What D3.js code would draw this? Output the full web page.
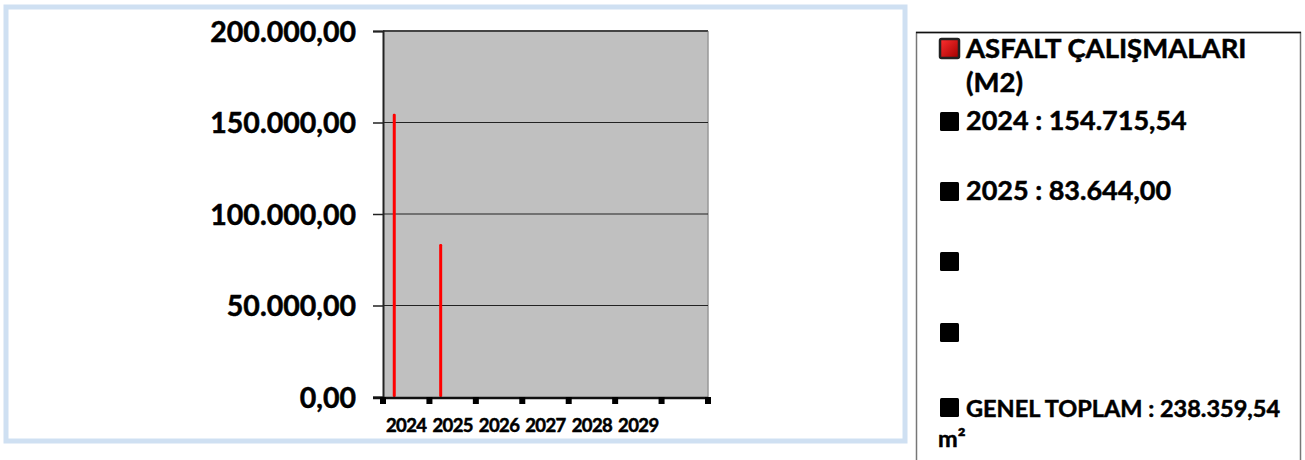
<!DOCTYPE html>
<html><head><meta charset="utf-8">
<script src="https://cdn.jsdelivr.net/npm/d3@7"></script>
<style>
html,body{margin:0;padding:0;background:#fff;}
svg{display:block;font-family:Lato,"Open Sans",sans-serif;font-weight:bold;}
svg text{stroke:#000;stroke-width:0.5px;}
</style></head>
<body><svg id="c" width="1305" height="460"></svg>
<script>
const categories = ["2024","2025","2026","2027","2028","2029",""];
const values = [154715.54, 83644.00, 0, 0, 0, 0, 0];
const yTicks = [0, 50000, 100000, 150000, 200000];
const seriesName = ["ASFALT ÇALIŞMALARI", "(M2)"];
const legendItems = ["2024 : 154.715,54", "2025 : 83.644,00", "", ""];
const totalLines = ["GENEL TOPLAM : 238.359,54", "m²"];

const svg = d3.select("#c");
const loc = d3.formatLocale({decimal:",", thousands:".", grouping:[3], currency:["",""]});
const fmt = loc.format(",.2f");

// outer frame
svg.append("rect").attr("x",6).attr("y",7).attr("width",899).attr("height",434)
  .attr("fill","#fff").attr("stroke","#cfe0f2").attr("stroke-width",5);

const L=383, R=708, T=31, B=397;
const x = d3.scaleBand().domain(d3.range(categories.length)).range([L,R]).padding(0);
const y = d3.scaleLinear().domain([0,200000]).range([B,T]);

// plot area
svg.append("rect").attr("x",L).attr("y",T).attr("width",R-L).attr("height",B-T).attr("fill","#c0c0c0");
svg.append("line").attr("x1",L).attr("x2",R).attr("y1",T).attr("y2",T).attr("stroke","#666").attr("stroke-width",2);
svg.append("line").attr("x1",R).attr("x2",R).attr("y1",T).attr("y2",B).attr("stroke","#999").attr("stroke-width",1.5);

// gridlines
svg.append("g").selectAll("line").data(yTicks.filter(d=>d>0)).join("line")
  .attr("x1",L).attr("x2",R).attr("y1",d=>y(d)).attr("y2",d=>y(d))
  .attr("stroke","#222").attr("stroke-width",1.2);

// y axis
const ya = svg.append("g").attr("transform",`translate(${L},0)`)
  .call(d3.axisLeft(y).tickValues(yTicks).tickFormat(fmt).tickSize(10).tickPadding(17));
ya.select(".domain").attr("stroke","#222").attr("stroke-width",2);
ya.selectAll(".tick line").attr("stroke","#222").attr("stroke-width",1.5);
ya.selectAll("text").attr("font-size",28.5).attr("font-weight","bold").attr("fill","#000")
  .attr("font-family","Lato, sans-serif").attr("dy","0.36em");

// bars
const bw = 3;
svg.append("g").selectAll("rect").data(values).join("rect")
  .attr("x",(d,i)=>x(i)+x.bandwidth()*0.21)
  .attr("y",d=>y(d)).attr("width",bw).attr("height",d=>B-y(d))
  .attr("rx",1.2).attr("fill","#ff0000");

// x axis
svg.append("line").attr("x1",L-10).attr("x2",R).attr("y1",B+1).attr("y2",B+1).attr("stroke","#111").attr("stroke-width",2.5);
const xt = x.domain().map(i=>x(i)).concat([R]);
svg.append("g").selectAll("rect").data(xt).join("rect")
  .attr("x",d=>d-3).attr("y",B).attr("width",6).attr("height",7).attr("fill","#000");
svg.append("g").selectAll("text").data(categories).join("text")
  .attr("x",(d,i)=>x(i)+x.bandwidth()/2).attr("y",432).attr("text-anchor","middle")
  .attr("font-size",18.5).attr("letter-spacing","-0.6").attr("fill","#000").text(d=>d);

// legend box
svg.append("rect").attr("x",916.5).attr("y",32.5).attr("width",384).attr("height",440)
  .attr("fill","#fff").attr("stroke","#777").attr("stroke-width",1.5);
svg.append("line").attr("x1",916).attr("x2",1301).attr("y1",32.5).attr("y2",32.5).attr("stroke","#111").attr("stroke-width",1.5);

const defs = svg.append("defs");
const g = defs.append("linearGradient").attr("id","rg").attr("x1","0").attr("y1","0").attr("x2","1").attr("y2","1");
g.append("stop").attr("offset","0").attr("stop-color","#ff3030");
g.append("stop").attr("offset","1").attr("stop-color","#a00000");

svg.append("rect").attr("x",940).attr("y",39).attr("width",19).attr("height",19).attr("rx",1.5)
  .attr("fill","url(#rg)").attr("stroke","#222").attr("stroke-width",2.5);
svg.append("g").selectAll("text").data(seriesName).join("text")
  .attr("x",966).attr("y",(d,i)=>58+i*34).attr("font-size",27.5).attr("fill","#000").text(d=>d);

const ly = [130, 200, 270, 341];
const li = svg.append("g").selectAll("g").data(legendItems).join("g");
li.append("rect").attr("x",940).attr("y",(d,i)=>ly[i]-18).attr("width",19).attr("height",19).attr("rx",1.5).attr("fill","#000");
li.append("text").attr("x",966).attr("y",(d,i)=>ly[i]).attr("font-size",27).attr("fill","#000").text(d=>d);

svg.append("rect").attr("x",940).attr("y",398).attr("width",19).attr("height",19).attr("rx",1.5).attr("fill","#000");
svg.append("g").selectAll("text").data(totalLines).join("text")
  .attr("x",(d,i)=>i===0?966:938).attr("y",(d,i)=>417+i*30).attr("font-size",23.5).attr("fill","#000").text(d=>d);
</script></body></html>
